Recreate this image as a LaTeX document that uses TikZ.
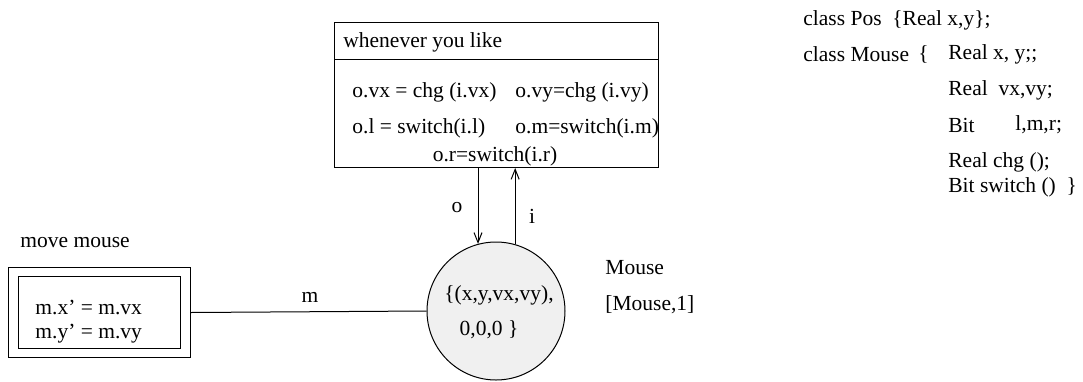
\documentclass[tikz,border=0pt]{standalone}
\usepackage{fontspec}
\setmainfont{Liberation Serif}
\usetikzlibrary{arrows.meta}
\begin{document}
\begin{tikzpicture}[x=0.5pt,y=-0.5pt,
  txt/.style={inner sep=0pt,anchor=west,font=\fontsize{10.75}{12}\selectfont},
  ctxt/.style={inner sep=0pt,anchor=center,font=\fontsize{10.75}{12}\selectfont},
  box/.style={draw,line width=0.5pt,inner sep=0pt,anchor=north west},
  arr/.style={line width=0.5pt,-{Straight Barb[length=5pt,width=4pt]}},
  wire/.style={line width=0.5pt}]
\useasboundingbox (0,0) rectangle (1083,381);
% top box
\node[box,minimum width=162pt,minimum height=72.5pt] (top) at (334,22) {};
\coordinate (hl) at (334,59);
\draw[wire] (hl) -- (hl -| top.east);
\node[txt] (t0) at (343,42) {whenever you like};
\node[txt] (t1) at (352,92) {o.vx = chg (i.vx)};
\node[txt] (t2) at (515,92) {o.vy=chg (i.vy)};
\node[txt] (t3) at (352,128) {o.l = switch(i.l)};
\node[txt] (t4) at (515,128) {o.m=switch(i.m)};
\node[ctxt] (t5) at (495,156) {o.r=switch(i.r)};
% circle
\node[circle,draw,line width=0.5pt,fill=black!6,minimum size=69pt,inner sep=0pt] (mouse) at (496,311) {};
\node[ctxt] (c1) at (499,295) {\{(x,y,vx,vy),};
\node[ctxt] (c2) at (489,330) {0,0,0 \}};
\draw[arr] (top.south -| mouse.105.1) -- (mouse.105.1);
\draw[arr] (mouse.74.9) -- (top.south -| mouse.74.9);
\node[ctxt] (lo) at (457,208) {o};
\node[ctxt] (li) at (532,216) {i};
\node[txt] (ml1) at (605,268) {Mouse};
\node[txt] (ml2) at (605,305) {[Mouse,1]};
% left box
\node[box,minimum width=91pt,minimum height=45pt] (outer) at (8,267) {};
\node[box,minimum width=81pt,minimum height=36pt] (inner) at (18,276) {};
\node[txt] (mv) at (20,243) {move mouse};
\node[txt] (e1) at (35,307) {m.x' = m.vx};
\node[txt] (e2) at (35,334) {m.y' = m.vy};
\draw[wire] (outer.east) -- (mouse.west);
\node[ctxt] (lm) at (310,297) {m};
% class text
\node[txt] (k1) at (803,20) {class Pos \ \{Real x,y\};};
\node[txt] (k2) at (803,54) {class Mouse};
\node[txt] (k3) at (918,54) {\{};
\node[txt] (k4) at (948,54) {Real x, y;;};
\node[txt] (k5) at (948,90) {Real \ vx,vy;};
\node[txt] (k6) at (948,125) {Bit};
\node[txt] (k7) at (1015,125) {l,m,r;};
\node[txt] (k8) at (948,162) {Real chg ();};
\node[txt] (k9) at (948,187) {Bit switch () \ \}};
\end{tikzpicture}
\end{document}
